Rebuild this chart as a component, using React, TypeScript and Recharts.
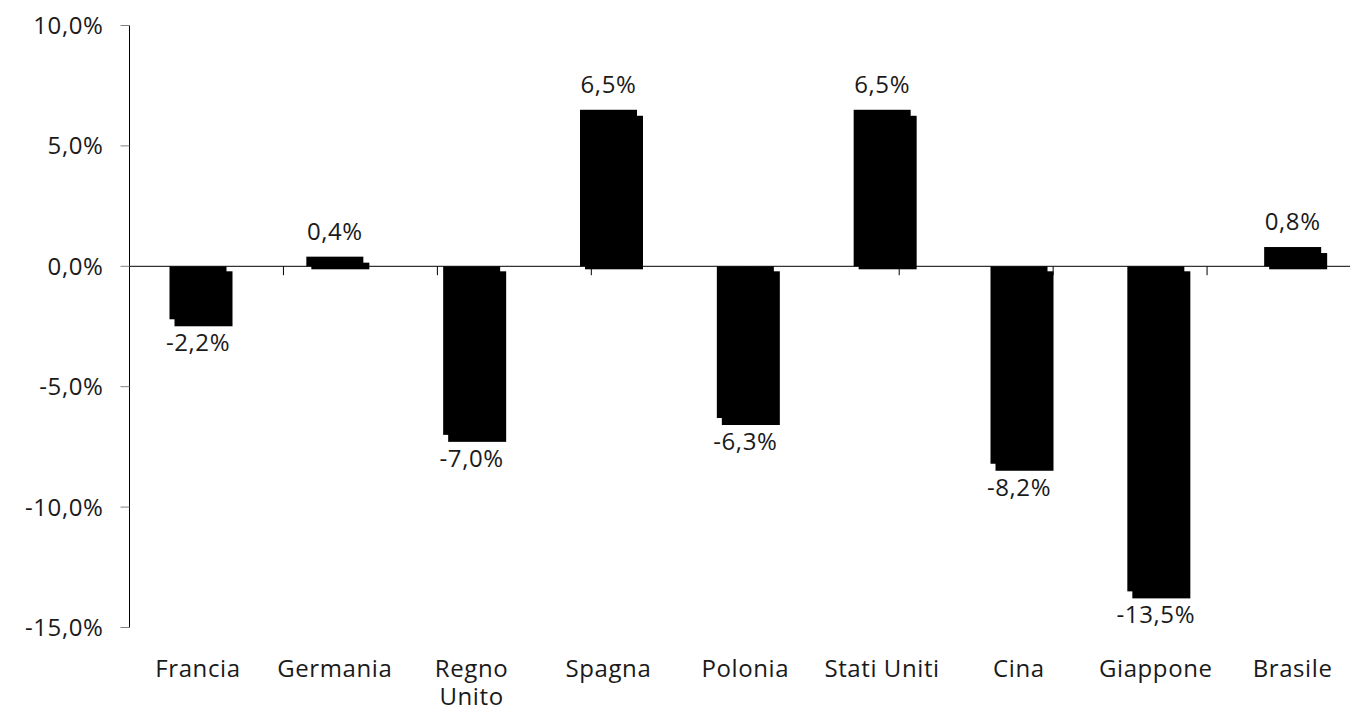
import React from "react";
import { BarChart, Bar, XAxis, YAxis, ReferenceLine, LabelList } from "recharts";

const categories = ["Francia", "Germania", "Regno Unito", "Spagna", "Polonia", "Stati Uniti", "Cina", "Giappone", "Brasile"];
const values = [-2.2, 0.4, -7.0, 6.5, -6.3, 6.5, -8.2, -13.5, 0.8];
const yTicks = [-15, -10, -5, 0, 5, 10];
const boundaries = [1, 2, 3, 4, 5, 6, 7, 8];

const data = categories.map((name, i) => ({ name, value: values[i] }));

const FONT = "'Open Sans', sans-serif";
const TEXT = "#1a1a1a";
const FS = 24;
const LS = 0.6;

const fmt = (v: number) => v.toFixed(1).replace(".", ",") + "%";

const BarShape = (props: any) => {
  const { x, y, width, height, value } = props;
  const top = Math.min(y, y + height);
  const h = Math.abs(height);
  const v = Array.isArray(value) ? value[1] : value;
  const neg = v < 0;
  const sTop = neg ? top + 5 : top + 6;
  const sH = neg ? h + 2 : h - 3;
  return (
    <g>
      <rect x={x + 5} y={sTop} width={width + 1} height={Math.max(sH, 0)} fill="#000" />
      <rect x={x} y={top} width={width} height={h} fill="#000" />
    </g>
  );
};

const ValueLabel = (props: any) => {
  const { x, y, width, height, value } = props;
  const top = Math.min(y, y + height);
  const bottom = Math.max(y, y + height);
  const cx = x + width / 2;
  const ty = value >= 0 ? top - 17 : bottom + 32;
  return (
    <text x={cx} y={ty} textAnchor="middle" fontFamily={FONT} fontSize={FS} letterSpacing={LS} fill={TEXT}>
      {fmt(value)}
    </text>
  );
};

const CatTick = (props: any) => {
  const { x, y, payload } = props;
  const words = String(payload.value) === "Regno Unito" ? ["Regno", "Unito"] : [String(payload.value)];
  return (
    <g>
      {words.map((w, i) => (
        <text key={i} x={x} y={y + 49 + i * 28} textAnchor="middle" fontFamily={FONT} fontSize={FS} letterSpacing={LS} fill={TEXT}>
          {w}
        </text>
      ))}
    </g>
  );
};

const YTick = (props: any) => {
  const { x, y, payload } = props;
  return (
    <text x={x} y={y} dy={8.5} textAnchor="end" fontFamily={FONT} fontSize={FS} letterSpacing={LS} fill={TEXT}>
      {fmt(payload.value)}
    </text>
  );
};

export default function App() {
  return (
    <div style={{ position: "absolute", left: 0, top: 0, width: 1350, height: 717, overflow: "hidden", background: "#fff" }}>
      <BarChart width={1361} height={717} data={data} margin={{ top: 25.5, right: 0, left: 0, bottom: 0 }} barSize={57}>
        <XAxis
          dataKey="name"
          axisLine={false}
          tickLine={false}
          tickSize={0}
          tickMargin={0}
          interval={0}
          height={89.5}
          tick={<CatTick />}
        />
        <XAxis xAxisId="pos" type="number" domain={[0, 9]} hide />
        <YAxis
          type="number"
          domain={[-15, 10]}
          ticks={yTicks}
          width={129.5}
          axisLine={{ stroke: "#000", strokeWidth: 1 }}
          tickLine={{ stroke: "#808080" }}
          tickSize={9}
          tickMargin={17}
          tick={<YTick />}
          interval={0}
        />
        <ReferenceLine y={0} stroke="#000" strokeWidth={1} />
        {boundaries.map((b) => (
          <ReferenceLine
            key={b}
            xAxisId="pos"
            segment={[{ x: b, y: 0 }, { x: b, y: -0.37 }]}
            stroke="#000"
            strokeWidth={1}
          />
        ))}
        <Bar dataKey="value" fill="#000" shape={<BarShape />} isAnimationActive={false}>
          <LabelList dataKey="value" content={<ValueLabel />} />
        </Bar>
      </BarChart>
    </div>
  );
}
